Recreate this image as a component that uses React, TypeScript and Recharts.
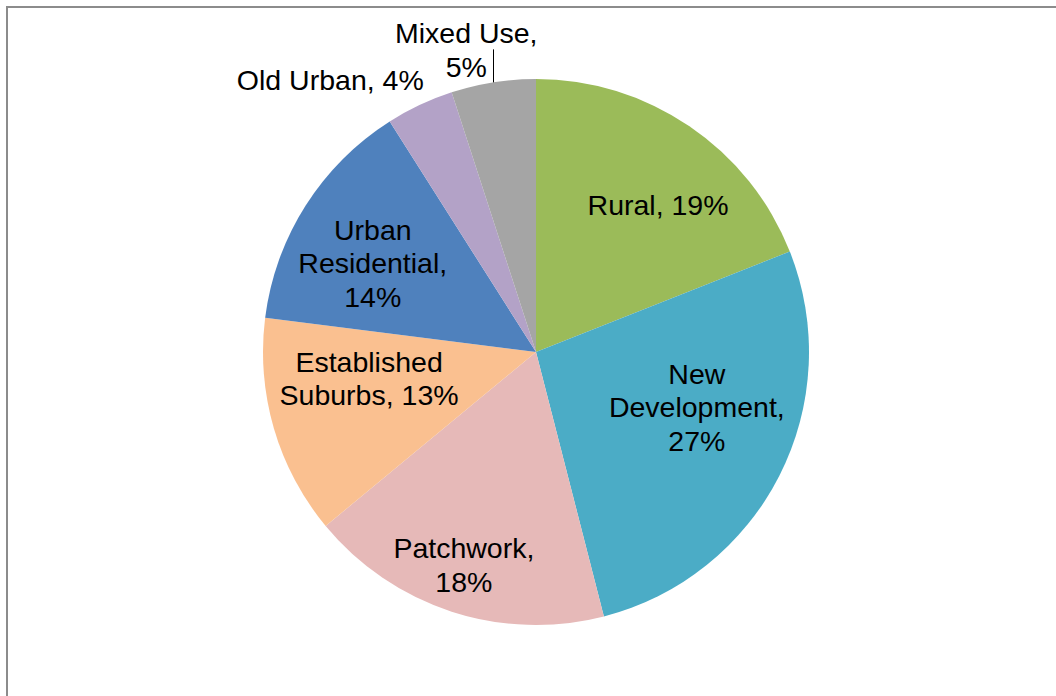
import { PieChart, Pie, Cell } from 'recharts';

const categories = [
  'Rural',
  'New Development',
  'Patchwork',
  'Established Suburbs',
  'Urban Residential',
  'Old Urban',
  'Mixed Use'
];
const shares = [19, 27, 18, 13, 14, 4, 5];
const colors = ['#9BBB59', '#4BACC6', '#E6B9B8', '#FAC090', '#4F81BD', '#B3A2C7', '#A5A5A5'];

// how each data label wraps; {v} is the value
const labelLines = [
  ['Rural, {v}%'],
  ['New', 'Development,', '{v}%'],
  ['Patchwork,', '{v}%'],
  ['Established', 'Suburbs, {v}%'],
  ['Urban', 'Residential,', '{v}%'],
  ['Old Urban, {v}%'],
  ['Mixed Use,', '{v}%']
];

// label distance (fraction of radius) and angle nudge (degrees, clockwise)
const labelSpot = [
  { r: 0.7, turn: 5.5 },
  { r: 0.623, turn: -8 },
  { r: 0.824, turn: 0.7 },
  { r: 0.619, turn: 7.2 },
  { r: 0.681, turn: -3.8 },
  { r: 1.249, turn: -11.9 },
  { r: 1.136, turn: -4 }
];
const leaderFor = 'Mixed Use';

const data = categories.map((name, i) => ({ name, value: shares[i] }));

const FONT = '"Liberation Sans", Arial, sans-serif';
const LINE_H = 33.5;
const RAD = Math.PI / 180;

const renderLabel = (props: any) => {
  const { cx, cy, midAngle, outerRadius, index, value, name } = props;
  const spot = labelSpot[index];
  const clock = 90 - midAngle + spot.turn;
  const dist = outerRadius * spot.r;
  const x = cx + dist * Math.sin(clock * RAD);
  const y = cy - dist * Math.cos(clock * RAD);
  const lines = labelLines[index].map((l) => l.replace('{v}', String(value)));
  const startY = y + 10 - ((lines.length - 1) * LINE_H) / 2;

  let leader = null;
  if (name === leaderFor) {
    const mid = 90 - midAngle;
    // snap to the pixel grid so the leader stays crisp
    const ex = Math.floor(cx + outerRadius * Math.sin(mid * RAD)) + 0.5;
    const ey = cy - outerRadius * Math.cos(mid * RAD);
    leader = <line x1={ex} y1={ey} x2={ex} y2={ey - 33} stroke="#000" strokeWidth={1} />;
  }

  return (
    <g key={`lbl-${index}`}>
      {leader}
      <text
        x={x}
        y={startY}
        textAnchor="middle"
        fill="#000"
        fontSize={28.5}
        fontFamily={FONT}
      >
        {lines.map((l, i) => (
          <tspan key={i} x={x} dy={i === 0 ? 0 : LINE_H}>
            {l}
          </tspan>
        ))}
      </text>
    </g>
  );
};

export default function App() {
  return (
    <div
      style={{
        position: 'absolute',
        left: 0,
        top: 0,
        width: 1056,
        height: 696,
        background: '#fff',
        overflow: 'hidden'
      }}
    >
      <div
        style={{
          position: 'absolute',
          left: 6,
          top: 6,
          width: 1100,
          height: 750,
          borderLeft: '2px solid #8c8c8c',
          borderTop: '2px solid #8c8c8c'
        }}
      />
      <div style={{ position: 'absolute', left: 0, top: 0 }}>
        <PieChart width={1056} height={696} margin={{ top: 0, right: 0, bottom: 0, left: 0 }}>
          <Pie
            data={data}
            dataKey="value"
            nameKey="name"
            cx={536}
            cy={352}
            outerRadius={273}
            startAngle={90}
            endAngle={-270}
            stroke="none"
            label={renderLabel}
            labelLine={false}
            isAnimationActive={false}
          >
            {data.map((d, i) => (
              <Cell key={d.name} fill={colors[i]} />
            ))}
          </Pie>
        </PieChart>
      </div>
    </div>
  );
}
